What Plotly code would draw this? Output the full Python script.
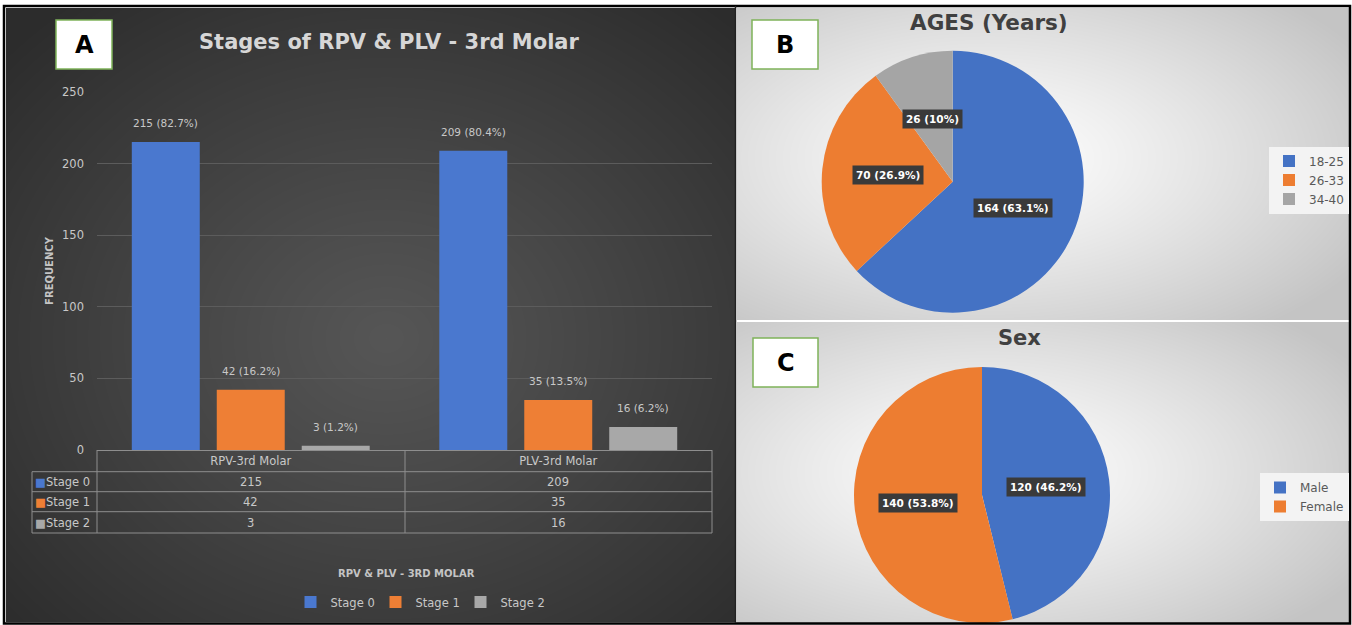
import numpy as np
import plotly.graph_objects as go
import zlib, struct, base64

# ---------------- DATA ----------------
categories = ["RPV-3rd Molar", "PLV-3rd Molar"]
stages = ["Stage 0", "Stage 1", "Stage 2"]
stage0 = [215, 209]
stage1 = [42, 35]
stage2 = [3, 16]
stage0_pct = ["82.7%", "80.4%"]
stage1_pct = ["16.2%", "13.5%"]
stage2_pct = ["1.2%", "6.2%"]

age_labels = ["18-25", "26-33", "34-40"]
age_values = [164, 70, 26]
age_pct = ["63.1%", "26.9%", "10%"]

sex_labels = ["Male", "Female"]
sex_values = [120, 140]
sex_pct = ["46.2%", "53.8%"]

y_ticks = [0, 50, 100, 150, 200, 250]

# ---------------- STYLE ----------------
W, H = 1352, 625
FONT = "DejaVu Sans"
BLUE, ORANGE, GRAY = "#4a78cf", "#ee7f35", "#a8a8a8"
bar_colors = [BLUE, ORANGE, GRAY]
pie_colors3 = ["#4472C4", "#ED7D31", "#A5A5A5"]
pie_colors2 = ["#4472C4", "#ED7D31"]
LIGHT = "#c8c8c8"
BARGAP, GROUPGAP = 0.171, 0.2


def px(x):
    return x / W


def py(y):
    return 1 - y / H


def png_uri(arr):
    h, w, _ = arr.shape
    raw = b"".join(b"\x00" + arr[i].tobytes() for i in range(h))

    def chunk(t, d):
        c = struct.pack(">I", len(d)) + t + d
        return c + struct.pack(">I", zlib.crc32(t + d) & 0xFFFFFFFF)

    data = (b"\x89PNG\r\n\x1a\n"
            + chunk(b"IHDR", struct.pack(">IIBBBBB", w, h, 8, 2, 0, 0, 0))
            + chunk(b"IDAT", zlib.compress(raw, 9))
            + chunk(b"IEND", b""))
    return "data:image/png;base64," + base64.b64encode(data).decode()


def radial(w, h, cx, cy, c_in, c_out, power=1.0):
    yy, xx = np.mgrid[0:h, 0:w].astype(float)
    d = np.sqrt(((xx - cx) / (w / 2)) ** 2 + ((yy - cy) / (h / 2)) ** 2) / np.sqrt(2)
    t = np.clip(d, 0, 1) ** power
    c_in = np.array(c_in, float)
    c_out = np.array(c_out, float)
    arr = c_in[None, None, :] * (1 - t)[..., None] + c_out[None, None, :] * t[..., None]
    return np.clip(arr, 0, 255).astype(np.uint8)


# panel rectangles (pixels)
A = (6, 8, 735, 622)
B = (737, 8, 1349, 320)
C = (737, 322, 1349, 623)

imgA = radial(A[2] - A[0], A[3] - A[1], 380, 330, (86, 86, 86), (44, 44, 44), 1.1)
imgB = radial(B[2] - B[0], B[3] - B[1], 250, 150, (255, 255, 255), (196, 196, 196), 1.2)
imgC = radial(C[2] - C[0], C[3] - C[1], 250, 150, (255, 255, 255), (196, 196, 196), 1.2)

images = []
for (x0, y0, x1, y1), img in [(A, imgA), (B, imgB), (C, imgC)]:
    images.append(dict(source=png_uri(img), xref="paper", yref="paper",
                       x=px(x0), y=py(y0), sizex=px(x1) - px(x0), sizey=py(y0) - py(y1),
                       sizing="stretch", layer="below", xanchor="left", yanchor="top"))

fig = go.Figure()

# ---------------- BAR CHART (A) ----------------
series = [stage0, stage1, stage2]
pcts = [stage0_pct, stage1_pct, stage2_pct]
for i, s in enumerate(stages):
    fig.add_trace(go.Bar(x=categories, y=series[i], name=s, marker=dict(color=bar_colors[i], line=dict(width=0)),
                         xaxis="x", yaxis="y", legend="legend", hoverinfo="x+y+name"))


def ann(**kw):
    d = dict(showarrow=False, xanchor="center", yanchor="middle")
    d.update(kw)
    return d


annotations = []
slot = 307.5 * (1 - BARGAP) / 3
for i in range(3):
    for j, cat in enumerate(categories):
        annotations.append(ann(x=cat, y=series[i][j], xref="x", yref="y",
                               text=f"{series[i][j]} ({pcts[i][j]})",
                               xshift=(i - 1) * slot, yshift=19,
                               font=dict(family=FONT, size=10.5, color=LIGHT)))

# data table
row_y = [482, 502, 522.5]
for i, s in enumerate(stages):
    annotations.append(ann(x=px(33), y=py(row_y[i]), xref="paper", yref="paper", xanchor="left",
                           text=f"<span style='color:{bar_colors[i]}'>■</span>{s}",
                           font=dict(family=FONT, size=11.5, color=LIGHT)))
    for j, cat in enumerate(categories):
        annotations.append(ann(x=cat, y=py(row_y[i]), xref="x", yref="paper",
                               text=str(series[i][j]),
                               font=dict(family=FONT, size=11.5, color=LIGHT)))

tbl = "#8e8e8e"
shapes = []
for yy, x0 in [(471.7, 32), (491.7, 32), (511.7, 32), (533, 32)]:
    shapes.append(dict(type="line", xref="paper", yref="paper", x0=px(x0), x1=px(712), y0=py(yy), y1=py(yy),
                       line=dict(color=tbl, width=1)))
for xx, y0 in [(97, 450), (405, 450), (712, 450), (32, 471.7)]:
    shapes.append(dict(type="line", xref="paper", yref="paper", x0=px(xx), x1=px(xx), y0=py(y0), y1=py(533),
                       line=dict(color=tbl, width=1)))

annotations += [
    ann(x=px(390), y=py(42), xref="paper", yref="paper", text="<b>Stages of RPV &amp; PLV - 3rd Molar</b>",
        font=dict(family=FONT, size=21, color="#d6d6d6")),
    ann(x=px(406), y=py(573), xref="paper", yref="paper", text="<b>RPV &amp; PLV - 3RD MOLAR</b>",
        font=dict(family=FONT, size=10, color="#c4c4c4")),
]

# ---------------- PIES (B, C) ----------------
pieB_c, pieB_d = (952.7, 181.7), 262
pieC_c, pieC_d = (982, 495), 256

fig.add_trace(go.Pie(labels=age_labels, values=age_values, sort=False, direction="clockwise", rotation=0,
                     marker=dict(colors=pie_colors3, line=dict(width=0)), textinfo="none",
                     domain=dict(x=[px(pieB_c[0] - pieB_d / 2), px(pieB_c[0] + pieB_d / 2)],
                                 y=[py(pieB_c[1] + pieB_d / 2), py(pieB_c[1] - pieB_d / 2)]),
                     legend="legend2", name="AGES"))
fig.add_trace(go.Pie(labels=sex_labels, values=sex_values, sort=False, direction="clockwise", rotation=0,
                     marker=dict(colors=pie_colors2, line=dict(width=0)), textinfo="none",
                     domain=dict(x=[px(pieC_c[0] - pieC_d / 2), px(pieC_c[0] + pieC_d / 2)],
                                 y=[py(pieC_c[1] + pieC_d / 2), py(pieC_c[1] - pieC_d / 2)]),
                     legend="legend3", name="Sex"))


def pie_labels(values, pct, center, diam, f=0.5):
    tot = float(sum(values))
    cum = 0.0
    out = []
    r = diam / 2
    for v, p in zip(values, pct):
        mid = (cum + v / 2) / tot * 2 * np.pi
        cum += v
        x = center[0] + f * r * np.sin(mid)
        y = center[1] - f * r * np.cos(mid)
        out.append(ann(x=px(x), y=py(y), xref="paper", yref="paper", text=f"<b>{v} ({p})</b>",
                       bgcolor="#3a3a3a", borderpad=3,
                       font=dict(family=FONT, size=10.5, color="white")))
    return out


annotations += pie_labels(age_values, age_pct, pieB_c, pieB_d)
annotations += pie_labels(sex_values, sex_pct, pieC_c, pieC_d)

annotations += [
    ann(x=px(989), y=py(22), xref="paper", yref="paper", text="<b>AGES (Years)</b>",
        font=dict(family=FONT, size=21.5, color="#404040")),
    ann(x=px(1019), y=py(338), xref="paper", yref="paper", text="<b>Sex</b>",
        font=dict(family=FONT, size=21, color="#404040")),
]

# panel letter boxes
for (x0, y0, x1, y1, letter) in [(56, 20, 112, 69, "A"), (752, 20, 818, 69, "B"), (753, 338, 818, 387, "C")]:
    shapes.append(dict(type="rect", xref="paper", yref="paper", x0=px(x0), x1=px(x1), y0=py(y1), y1=py(y0),
                       fillcolor="white", line=dict(color="#7fb35a", width=1.5)))
    annotations.append(ann(x=px((x0 + x1) / 2), y=py((y0 + y1) / 2), xref="paper", yref="paper",
                           text=f"<b>{letter}</b>",
                           font=dict(family=FONT, size=24, color="black")))

# outer frame
shapes.append(dict(type="rect", xref="paper", yref="paper", x0=px(4), x1=px(1350), y0=py(623.5), y1=py(6),
                   line=dict(color="black", width=2.5), fillcolor="rgba(0,0,0,0)"))
shapes.append(dict(type="line", xref="paper", yref="paper", x0=px(735.5), x1=px(735.5), y0=py(623), y1=py(6),
                   line=dict(color="#222222", width=1.5)))

fig.update_layout(
    width=W, height=H, autosize=False,
    margin=dict(l=0, r=0, t=0, b=0, pad=0, autoexpand=False),
    paper_bgcolor="white", plot_bgcolor="rgba(0,0,0,0)",
    images=images, shapes=shapes, annotations=annotations,
    barmode="group", bargap=BARGAP, bargroupgap=GROUPGAP,
    font=dict(family=FONT),
    xaxis=dict(domain=[px(97), px(712)], anchor="y", showgrid=False, zeroline=False,
               showline=True, linecolor=tbl, linewidth=1, ticks="", automargin=False,
               tickfont=dict(family=FONT, size=11.5, color=LIGHT)),
    yaxis=dict(domain=[py(450), py(92)], anchor="x", range=[0, 250], tickvals=y_ticks,
               showgrid=True, gridcolor="#5c5c5c", gridwidth=1, zeroline=False, showline=False,
               ticks="", ticklabelstandoff=12, automargin=False,
               tickfont=dict(family=FONT, size=11.5, color=LIGHT),
               title=dict(text="<b>FREQUENCY</b>", standoff=6, font=dict(family=FONT, size=10, color="#c4c4c4"))),
    legend=dict(orientation="h", x=px(418), y=py(602), xanchor="center", yanchor="middle",
                bgcolor="rgba(0,0,0,0)", font=dict(family=FONT, size=11.5, color=LIGHT),
                itemwidth=30, traceorder="normal", entrywidth=40, entrywidthmode="pixels"),
    legend2=dict(x=px(1349), y=py(180), xanchor="right", yanchor="middle",
                 bgcolor="#f3f3f3", font=dict(family=FONT, size=12, color="#595959"), itemwidth=30),
    legend3=dict(x=px(1349), y=py(497), xanchor="right", yanchor="middle",
                 bgcolor="#f3f3f3", font=dict(family=FONT, size=12, color="#595959"), itemwidth=30),
)

post = ("document.documentElement.style.margin='0px';document.body.style.margin='0px';"
        "document.documentElement.style.overflow='hidden';document.body.style.overflow='hidden';"
        "var gd=document.getElementById('{plot_id}');var p=gd.parentElement;"
        "p.style.position='absolute';p.style.left='0px';p.style.top='0px';")
fig.write_html("out.html", config={"displayModeBar": False}, post_script=post)
